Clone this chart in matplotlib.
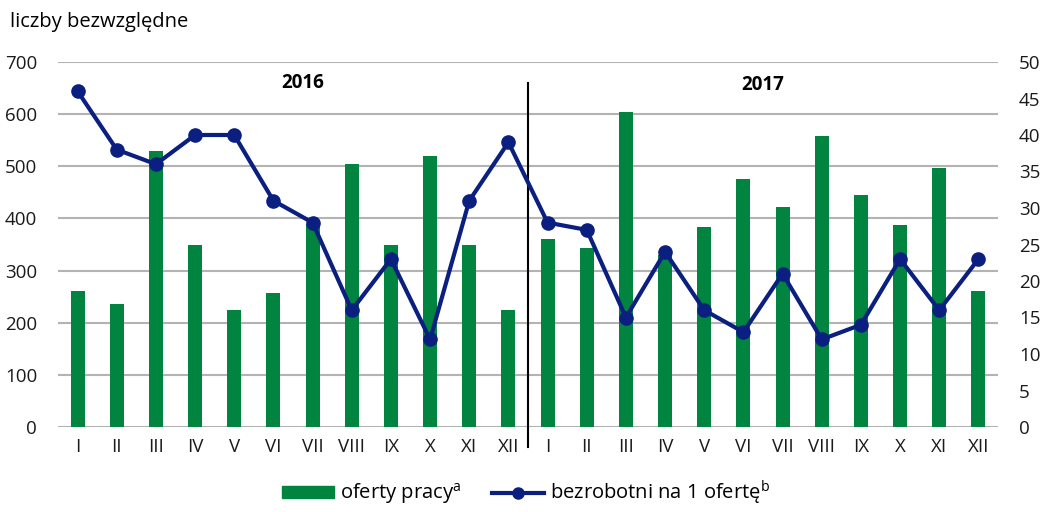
import matplotlib
matplotlib.use("Agg")
import matplotlib.pyplot as plt
from matplotlib.lines import Line2D
from matplotlib.patches import Patch
import numpy as np

plt.rcParams['font.family'] = ['Open Sans', 'DejaVu Sans']

months = ['I', 'II', 'III', 'IV', 'V', 'VI', 'VII', 'VIII', 'IX', 'X', 'XI', 'XII']
labels = months + months
oferty = [261, 236, 529, 349, 224, 257, 390, 505, 350, 520, 349, 224,
          360, 344, 605, 330, 384, 476, 422, 558, 445, 388, 496, 261]
bezrobotni = [46, 38, 36, 40, 40, 31, 28, 16, 23, 12, 31, 39,
              28, 27, 15, 24, 16, 13, 21, 12, 14, 23, 16, 23]

green = '#00843f'
navy = '#0b1f80'

fig = plt.figure(figsize=(10.42, 5.12), dpi=100)
ax = fig.add_axes([58 / 1042, 1 - 427 / 512, 940 / 1042, 365 / 512])
ax2 = ax.twinx()

x = np.arange(len(labels))
ax.bar(x, oferty, width=0.36, color=green, zorder=2)
ax2.plot(x, bezrobotni, color=navy, lw=3, marker='o', ms=9.5, zorder=3)

ax.set_ylim(0, 700)
ax.set_yticks(range(0, 701, 100))
ax2.set_ylim(0, 50)
ax2.set_yticks(range(0, 51, 5))
ax.set_xlim(-0.5, len(labels) - 0.5)
ax.set_xticks(x)
ax.set_xticklabels(labels)

ax.grid(axis='y', color='#b3b3b3', lw=1.5, zorder=0)
ax.set_axisbelow(True)
for a in (ax, ax2):
    for s in a.spines.values():
        s.set_visible(False)
    a.tick_params(length=0, labelsize=13.5, colors='#1a1a1a')
ax.tick_params(axis='y', pad=15)
ax2.tick_params(axis='y', pad=15)
ax.tick_params(axis='x', pad=8)

# divider between years
ax.plot([11.5, 11.5], [660, -38], color='black', lw=1.5, clip_on=False, zorder=4)

ax.text(5.75, 660, '2016', ha='center', va='center', fontsize=13.5, fontweight='bold')
ax.text(17.5, 655, '2017', ha='center', va='center', fontsize=13.5, fontweight='bold')

fig.text(10 / 1042, 1 - 22 / 512, 'liczby bezwzględne', fontsize=14.5, va='center', ha='left')

handles = [Patch(color=green),
           Line2D([0], [0], color=navy, lw=3, marker='o', ms=8)]
fig.legend(handles, ['oferty pracy$^{\\mathregular{a}}$', 'bezrobotni na 1 ofertę$^{\\mathregular{b}}$'],
           loc='lower center', bbox_to_anchor=(0.505, -0.025), ncol=2, frameon=False,
           fontsize=14.5, handlelength=2.6, handleheight=0.55, handletextpad=0.3,
           columnspacing=1.5)

fig.savefig('out.png', dpi=100)
